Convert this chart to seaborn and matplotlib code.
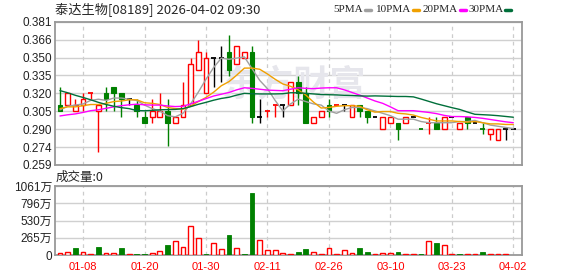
import numpy as np
import pandas as pd
import matplotlib
matplotlib.use("Agg")
import matplotlib.pyplot as plt
from matplotlib.lines import Line2D
import seaborn as sns

# ---------------- data ----------------
title_text = "泰达生物[08189] 2026-04-02 09:30"
volume_title = "成交量:0"

opens = [0.310, 0.310, 0.305, 0.310, 0.320, 0.305, 0.320, 0.325, 0.320, 0.315,
         0.310, 0.300, 0.300, 0.300, 0.305, 0.295, 0.300, 0.310, 0.340, 0.320,
         0.350, 0.350, 0.355, 0.345, 0.350, 0.355, 0.300, 0.305, 0.310, 0.310,
         0.310, 0.330, 0.320, 0.295, 0.300, 0.310, 0.310, 0.310, 0.300, 0.310,
         0.305, 0.300, 0.290, 0.295, 0.295, 0.295, 0.300, 0.290, 0.295, 0.295,
         0.290, 0.300, 0.290, 0.300, 0.295, 0.290, 0.285, 0.280, 0.290, 0.290]
highs = [0.325, 0.320, 0.315, 0.320, 0.320, 0.310, 0.325, 0.325, 0.320, 0.315,
         0.315, 0.305, 0.315, 0.320, 0.315, 0.300, 0.330, 0.350, 0.365, 0.355,
         0.350, 0.360, 0.370, 0.360, 0.355, 0.360, 0.315, 0.305, 0.310, 0.310,
         0.330, 0.335, 0.325, 0.300, 0.305, 0.315, 0.310, 0.310, 0.310, 0.310,
         0.305, 0.300, 0.300, 0.300, 0.295, 0.300, 0.300, 0.290, 0.300, 0.300,
         0.300, 0.300, 0.295, 0.300, 0.295, 0.295, 0.290, 0.290, 0.290, 0.290]
lows = [0.305, 0.310, 0.305, 0.305, 0.315, 0.270, 0.305, 0.305, 0.300, 0.310,
        0.300, 0.295, 0.295, 0.300, 0.275, 0.295, 0.300, 0.310, 0.340, 0.320,
        0.325, 0.330, 0.335, 0.345, 0.350, 0.295, 0.295, 0.300, 0.300, 0.300,
        0.310, 0.310, 0.295, 0.295, 0.300, 0.300, 0.310, 0.305, 0.300, 0.300,
        0.295, 0.300, 0.290, 0.295, 0.280, 0.295, 0.300, 0.290, 0.285, 0.290,
        0.290, 0.300, 0.290, 0.290, 0.295, 0.285, 0.280, 0.280, 0.280, 0.290]
closes = [0.305, 0.320, 0.310, 0.315, 0.320, 0.310, 0.315, 0.320, 0.315, 0.315,
          0.305, 0.295, 0.305, 0.305, 0.295, 0.300, 0.310, 0.345, 0.355, 0.350,
          0.350, 0.350, 0.340, 0.360, 0.355, 0.300, 0.300, 0.305, 0.310, 0.310,
          0.330, 0.320, 0.295, 0.300, 0.305, 0.305, 0.310, 0.310, 0.310, 0.305,
          0.300, 0.300, 0.300, 0.300, 0.290, 0.300, 0.300, 0.290, 0.295, 0.290,
          0.300, 0.300, 0.295, 0.295, 0.295, 0.290, 0.290, 0.290, 0.290, 0.290]
# volume in 万股
volumes = [35, 45, 105, 45, 15, 120, 30, 30, 105, 15,
           15, 15, 30, 60, 150, 220, 120, 452, 266, 15,
           180, 90, 316, 105, 15, 964, 226, 75, 75, 30,
           15, 45, 90, 45, 15, 115, 15, 70, 30, 105,
           45, 15, 30, 30, 45, 15, 15, 15, 220, 180,
           160, 15, 15, 15, 15, 45, 15, 15, 15, 0]
# closes before the visible window (estimated from where the MA lines start)
prior_closes = [0.375, 0.375, 0.370, 0.380, 0.375, 0.370, 0.365, 0.350, 0.340, 0.355,
                0.300, 0.295, 0.290, 0.290, 0.295, 0.290, 0.295, 0.295, 0.300, 0.295,
                0.305, 0.310, 0.305, 0.310, 0.310,
                0.305, 0.305, 0.310, 0.305]

date_labels = ["01-08", "01-20", "01-30", "02-11", "02-26", "03-10", "03-23", "04-02"]
date_label_idx = [3, 11, 19, 27, 35, 43, 51, 59]
price_ticks = [0.259, 0.27425, 0.2895, 0.30475, 0.320, 0.33525, 0.3505, 0.36575, 0.381]
price_tick_labels = ["0.259", "0.274", "0.290", "0.305", "0.320", "0.335", "0.350", "0.366", "0.381"]
vol_ticks = [0, 265.25, 530.5, 795.75, 1061]
vol_tick_labels = ["0", "265万", "530万", "796万", "1061万"]
ma_windows = [5, 10, 20, 30]
ma_names = ["5PMA", "10PMA", "20PMA", "30PMA"]

# ---------------- styles ----------------
RED = "#ff0000"
GREEN = "#008000"
BLACK = "#000000"
ma_colors = ["#a0a0a0", "#f0a000", "#ff00ff", "#006f3a"]

sns.set_style("white")
plt.rcParams["font.family"] = ["Liberation Sans", "Noto Sans CJK SC", "DejaVu Sans"]

n = len(closes)
xs = np.arange(n)
df = pd.DataFrame({"idx": xs, "open": opens, "high": highs, "low": lows,
                   "close": closes, "volume": volumes})
all_close = pd.Series(prior_closes + closes)
for w, name in zip(ma_windows, ma_names):
    df[name] = all_close.rolling(w).mean().iloc[len(prior_closes):].values

prev_close = [prior_closes[-1]] + closes[:-1]

W, H = 578, 276
fig = plt.figure(figsize=(W / 100, H / 100), dpi=100)
ax = fig.add_axes([55.3 / W, 1 - 165 / H, 467 / W, 143.3 / H])
axv = fig.add_axes([55.3 / W, 1 - 255 / H, 467 / W, 68.7 / H])

xlim = (-0.61, 60.17)
bw = 0.62

# candles
for i in range(n):
    o, h, l, c, pc = opens[i], highs[i], lows[i], closes[i], prev_close[i]
    if c > o + 1e-9:
        ax.bar(i, c - o, bottom=o, width=bw, facecolor="white", edgecolor=RED,
               linewidth=1.0, zorder=3)
        if h > c + 1e-9:
            ax.vlines(i, c, h, color=RED, lw=1.0, zorder=3)
        if l < o - 1e-9:
            ax.vlines(i, l, o, color=RED, lw=1.0, zorder=3)
    elif c < o - 1e-9:
        ax.vlines(i, l, h, color=GREEN, lw=1.0, zorder=2.9)
        ax.bar(i, o - c, bottom=c, width=bw, facecolor=GREEN, edgecolor=GREEN,
               linewidth=0.8, zorder=3)
    else:
        col = RED if c > pc + 1e-9 else (GREEN if c < pc - 1e-9 else BLACK)
        if h > l + 1e-9:
            ax.vlines(i, l, h, color=col, lw=1.0, zorder=3)
        ax.hlines(o, i - bw / 2, i + bw / 2, color=col, lw=1.3, zorder=3)

# moving averages
for name, col in zip(ma_names, ma_colors):
    sns.lineplot(data=df, x="idx", y=name, color=col, lw=1.0, ax=ax, zorder=4,
                 legend=False)

# volume bars
for i in range(n):
    v = volumes[i]
    if v <= 0:
        continue
    if closes[i] >= prev_close[i] - 1e-9:
        axv.bar(i, v, width=bw, facecolor="white", edgecolor=RED, linewidth=1.0, zorder=3)
    else:
        axv.bar(i, v, width=bw, facecolor=GREEN, edgecolor=GREEN, linewidth=0.6, zorder=3)

# watermark
ax.text(30.5, 0.327, "东方财富", fontsize=26, color="#e6e6ec", ha="center", va="center",
        fontweight="bold", family=["Noto Sans CJK SC"], zorder=0.6)

for a in (ax, axv):
    a.set_xlim(*xlim)
    a.set_xticks(date_label_idx)
    for s in a.spines.values():
        s.set_color("#999999")
        s.set_linewidth(1.3)
    a.grid(axis="y", color="#d0d0d0", lw=1.0, ls="-", zorder=0.5)
    a.grid(axis="x", color="#cccccc", lw=0.9, ls=(0, (3, 3)), zorder=0.5)
    a.set_axisbelow(True)
    a.tick_params(length=0)
    a.set_xlabel("")
    a.set_ylabel("")

ax.set_ylim(price_ticks[0], price_ticks[-1])
ax.set_yticks(price_ticks)
ax.set_yticklabels(price_tick_labels, fontsize=8.5, color="#222222")
ax.tick_params(axis="y", pad=2.5)
ax.set_xticklabels([])

axv.set_ylim(0, 1061)
axv.set_yticks(vol_ticks)
axv.set_yticklabels(vol_tick_labels, fontsize=8.5, color="#222222")
axv.tick_params(axis="y", pad=2.5)
axv.set_xticklabels(date_labels, fontsize=8, color=RED)
axv.tick_params(axis="x", pad=5)

# title & labels
fig.text(55 / W, 1 - 10 / H, title_text, fontsize=9.5, va="center", ha="left",
         family=["Noto Sans CJK SC", "DejaVu Sans"])
fig.text(56 / W, 1 - 177 / H, volume_title, fontsize=9, va="center", ha="left",
         family=["Noto Sans CJK SC", "DejaVu Sans"])

# legend
leg_mark_x = [367.7, 416, 462.7, 508.3]
for name, col, mx in zip(ma_names, ma_colors, leg_mark_x):
    fig.text((mx - 5) / W, 1 - 10 / H, name, fontsize=8, va="center", ha="right",
             family=["Liberation Serif"])
    fig.add_artist(Line2D([(mx - 3) / W, (mx + 3) / W], [1 - 10 / H, 1 - 10 / H],
                          color=col, lw=2.5, transform=fig.transFigure))

fig.savefig("out.png", dpi=100)
